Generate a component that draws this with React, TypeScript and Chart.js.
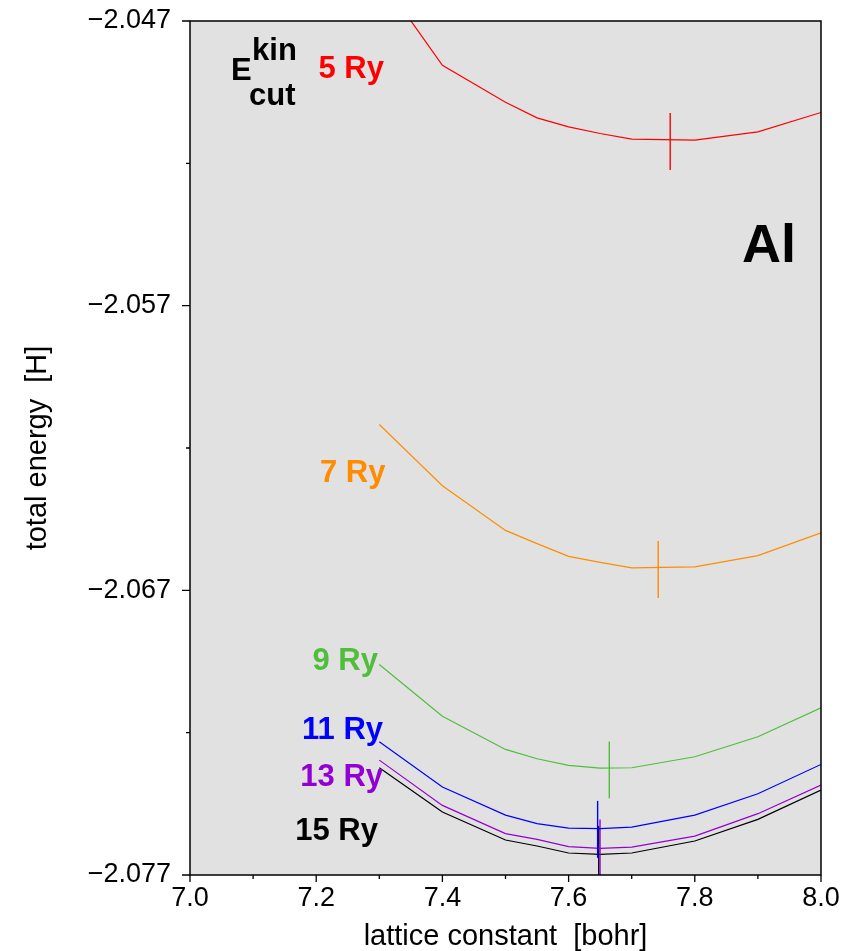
import React, { useEffect, useRef } from "react";
import { Chart, registerables } from "chart.js";

Chart.register(...registerables);

// ---- data ----
const latticeConstants = [7.3, 7.4, 7.5, 7.55, 7.6, 7.65, 7.7, 7.8, 7.9, 8.0];

const energy5Ry = [-2.045432, -2.048554, -2.049853, -2.050404, -2.050719, -2.050951, -2.051151, -2.051186, -2.050895, -2.050214];
const energy7Ry = [-2.061175, -2.063326, -2.064895, -2.065361, -2.065807, -2.066018, -2.066214, -2.066179, -2.065782, -2.064982];
const energy9Ry = [-2.069607, -2.071421, -2.072589, -2.072916, -2.073151, -2.073246, -2.073232, -2.072846, -2.072144, -2.071126];
const energy11Ry = [-2.072319, -2.073912, -2.074895, -2.075196, -2.075351, -2.075372, -2.075316, -2.074895, -2.074144, -2.073116];
const energy13Ry = [-2.072965, -2.074554, -2.075547, -2.075747, -2.076004, -2.076063, -2.076018, -2.075632, -2.074846, -2.073842];
const energy15Ry = [-2.073232, -2.074789, -2.075772, -2.075982, -2.076228, -2.076274, -2.076228, -2.075807, -2.075046, -2.074018];

const cutoffLabels = ["5 Ry", "7 Ry", "9 Ry", "11 Ry", "13 Ry", "15 Ry"];
const seriesColors = ["#ff0000", "#ff8c00", "#50be3c", "#0000ff", "#9400d3", "#000000"];

// fitted minimum (equilibrium lattice constant, energy) per cutoff
const minimumA = [7.761, 7.742, 7.6645, 7.646, 7.6498, 7.6477];
const minimumE = [-2.051232, -2.066267, -2.073307, -2.075397, -2.076046, -2.07628];
const minimumHalfHeight = 0.001;

// series label anchors (right edge, baseline) in data units
const labelA = [7.3074, 7.3098, 7.2979, 7.3059, 7.3059, 7.2979];
const labelE = [-2.048986, -2.063196, -2.069782, -2.072239, -2.073877, -2.075782];

// E^kin_cut header pieces
const headerTexts = ["E", "kin", "cut"];
const headerA = [7.065, 7.0983, 7.0935];
const headerE = [-2.049081, -2.048379, -2.049958];

const elementText = "Al";
const elementA = 7.8748;
const elementE = -2.055467;

const xTickValues = [7.0, 7.2, 7.4, 7.6, 7.8, 8.0];
const xTickLabels = ["7.0", "7.2", "7.4", "7.6", "7.8", "8.0"];
const xMinorTicks = [7.1, 7.3, 7.5, 7.7, 7.9];
const yTickValues = [-2.077, -2.067, -2.057, -2.047];
const yTickLabels = ["\u22122.077", "\u22122.067", "\u22122.057", "\u22122.047"];
const yMinorTicks = [-2.072, -2.062, -2.052];

const FONT = '"Liberation Sans", Arial, Helvetica, sans-serif';

const decorPlugin = {
  id: "decor",
  beforeDatasetsDraw(chart: any) {
    const { ctx, chartArea } = chart;
    ctx.save();
    ctx.fillStyle = "#e1e1e1";
    ctx.fillRect(chartArea.left, chartArea.top, chartArea.right - chartArea.left, chartArea.bottom - chartArea.top);
    ctx.restore();
  },
  afterDatasetsDraw(chart: any) {
    const { ctx, chartArea, scales } = chart;
    const xs = scales.x;
    const ys = scales.y;
    ctx.save();
    // frame
    ctx.strokeStyle = "#000";
    ctx.lineWidth = 1.5;
    ctx.strokeRect(chartArea.left, chartArea.top, chartArea.right - chartArea.left, chartArea.bottom - chartArea.top);
    // ticks
    ctx.lineWidth = 1.3;
    ctx.beginPath();
    yTickValues.forEach((v) => {
      const y = ys.getPixelForValue(v);
      ctx.moveTo(chartArea.left - 8, y);
      ctx.lineTo(chartArea.left, y);
    });
    yMinorTicks.forEach((v) => {
      const y = ys.getPixelForValue(v);
      ctx.moveTo(chartArea.left - 4, y);
      ctx.lineTo(chartArea.left, y);
    });
    xTickValues.forEach((v) => {
      const x = xs.getPixelForValue(v);
      ctx.moveTo(x, chartArea.bottom);
      ctx.lineTo(x, chartArea.bottom + 7);
    });
    xMinorTicks.forEach((v) => {
      const x = xs.getPixelForValue(v);
      ctx.moveTo(x, chartArea.bottom);
      ctx.lineTo(x, chartArea.bottom + 4);
    });
    ctx.stroke();

    // series labels
    ctx.font = `bold 31px ${FONT}`;
    ctx.textAlign = "right";
    ctx.textBaseline = "alphabetic";
    cutoffLabels.forEach((t, i) => {
      ctx.fillStyle = seriesColors[i];
      ctx.fillText(t, xs.getPixelForValue(labelA[i]), ys.getPixelForValue(labelE[i]));
    });
    // header
    ctx.textAlign = "left";
    ctx.fillStyle = "#000";
    headerTexts.forEach((t, i) => {
      ctx.fillText(t, xs.getPixelForValue(headerA[i]), ys.getPixelForValue(headerE[i]));
    });
    // element
    ctx.font = `bold 54px ${FONT}`;
    ctx.fillText(elementText, xs.getPixelForValue(elementA), ys.getPixelForValue(elementE));
    ctx.restore();
  },
};

export default function App() {
  const ref = useRef<HTMLCanvasElement>(null);
  useEffect(() => {
    const canvas = ref.current;
    if (!canvas) return;
    const seriesList = [energy5Ry, energy7Ry, energy9Ry, energy11Ry, energy13Ry, energy15Ry];
    const datasets: any[] = [];
    seriesList.forEach((s, i) => {
      datasets.push({
        label: cutoffLabels[i],
        data: latticeConstants.map((a, j) => ({ x: a, y: s[j] })),
        borderColor: seriesColors[i],
        borderWidth: 1.2,
        pointRadius: 0,
        fill: false,
        tension: 0,
      });
      datasets.push({
        label: cutoffLabels[i] + " min",
        data: [
          { x: minimumA[i], y: minimumE[i] - minimumHalfHeight },
          { x: minimumA[i], y: minimumE[i] + minimumHalfHeight },
        ],
        borderColor: seriesColors[i],
        borderWidth: 1.4,
        pointRadius: 0,
        fill: false,
      });
    });
    const chart = new Chart(canvas, {
      type: "line",
      data: { datasets },
      options: {
        animation: false,
        responsive: false,
        maintainAspectRatio: false,
        layout: { padding: { top: 21, right: 29, left: 0, bottom: 0 } },
        plugins: { legend: { display: false }, tooltip: { enabled: false } },
        scales: {
          x: {
            type: "linear",
            min: 7.0,
            max: 8.0,
            afterBuildTicks: (s: any) => {
              s.ticks = xTickValues.map((v) => ({ value: v }));
            },
            afterFit: (s: any) => {
              s.height = 76;
              s.paddingLeft = 0;
              s.paddingRight = 0;
              s.paddingTop = 0;
              s.paddingBottom = 0;
            },
            grid: { display: false, drawTicks: false },
            border: { display: false },
            ticks: {
              callback: (_v: any, i: number) => xTickLabels[i],
              padding: 7,
              color: "#000",
              maxRotation: 0,
              autoSkip: false,
              font: { family: FONT, size: 27 },
            },
            title: {
              display: true,
              text: "lattice constant  [bohr]",
              color: "#000",
              font: { family: FONT, size: 29, lineHeight: 1 },
              padding: { top: 0, bottom: 0 },
            },
          },
          y: {
            type: "linear",
            min: -2.077,
            max: -2.047,
            afterBuildTicks: (s: any) => {
              s.ticks = yTickValues.map((v) => ({ value: v }));
            },
            afterFit: (s: any) => {
              s.width = 190;
              s.paddingLeft = 0;
              s.paddingRight = 0;
              s.paddingTop = 0;
              s.paddingBottom = 0;
            },
            grid: { display: false, drawTicks: false },
            border: { display: false },
            ticks: {
              callback: (_v: any, i: number) => yTickLabels[i],
              padding: 19,
              color: "#000",
              autoSkip: false,
              font: { family: FONT, size: 27 },
            },
            title: {
              display: true,
              text: "total energy  [H]",
              color: "#000",
              font: { family: FONT, size: 29, lineHeight: 1 },
              padding: { top: 23, bottom: 0 },
            },
          },
        },
      },
      plugins: [decorPlugin],
    });
    return () => chart.destroy();
  }, []);
  return (
    <div style={{ position: "absolute", left: 0, top: 0, width: 850, height: 951 }}>
      <canvas ref={ref} width={850} height={951} style={{ width: 850, height: 951, display: "block" }} />
    </div>
  );
}
